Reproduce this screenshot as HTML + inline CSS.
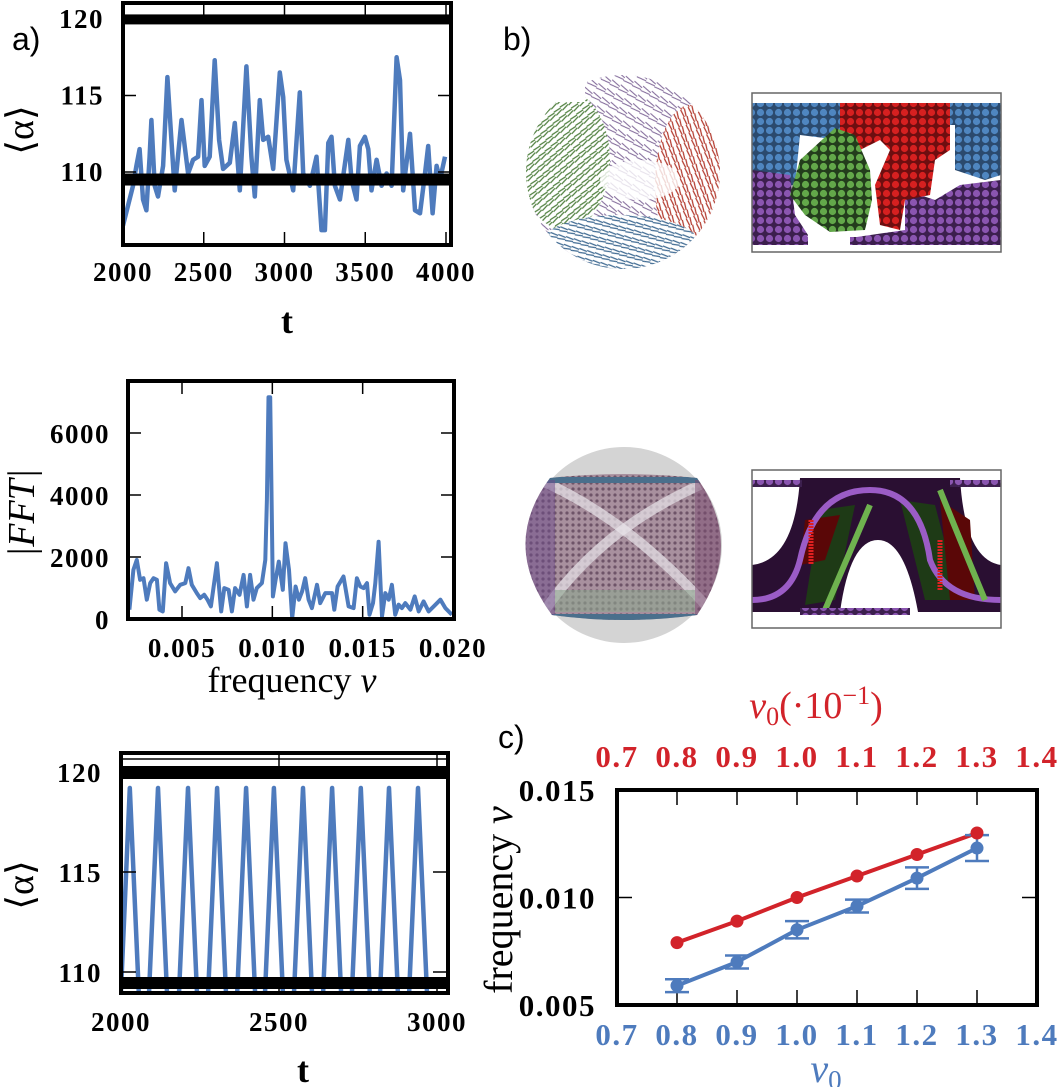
<!DOCTYPE html>
<html><head><meta charset="utf-8"><style>
html,body{margin:0;padding:0;background:#fff;}
svg{display:block;}
.tk{font-family:"Liberation Serif",serif;font-weight:bold;font-size:27px;letter-spacing:1.5px;}
.tkc{font-family:"Liberation Serif",serif;font-weight:bold;font-size:31px;letter-spacing:1.5px;}
.lab{font-family:"Liberation Serif",serif;}
.pl{font-family:"Liberation Sans",sans-serif;font-size:32px;}
</style></head><body>
<svg id="fig" width="1058" height="1087" viewBox="0 0 1058 1087" xmlns="http://www.w3.org/2000/svg">
<defs>
<pattern id="pBlue" width="9" height="9" patternUnits="userSpaceOnUse"><rect width="9" height="9" fill="#2b4a6e"/><circle cx="4.5" cy="4.5" r="3.6" fill="#4f86c0"/></pattern>
<pattern id="pRed" width="9" height="9" patternUnits="userSpaceOnUse"><rect width="9" height="9" fill="#6e0e10"/><circle cx="4.5" cy="4.5" r="3.6" fill="#d62020"/></pattern>
<pattern id="pGreen" width="9" height="9" patternUnits="userSpaceOnUse"><rect width="9" height="9" fill="#233d1c"/><circle cx="4.5" cy="4.5" r="3.6" fill="#63a84a"/></pattern>
<pattern id="pPurple" width="9" height="9" patternUnits="userSpaceOnUse"><rect width="9" height="9" fill="#3c1f4e"/><circle cx="4.5" cy="4.5" r="3.6" fill="#8a55b0"/></pattern>
<pattern id="pMesh" width="6" height="6" patternUnits="userSpaceOnUse"><rect width="6" height="6" fill="#a8909e"/><circle cx="3" cy="3" r="1.6" fill="#6e5468"/></pattern>
<pattern id="pTraj" width="10" height="10" patternUnits="userSpaceOnUse" patternTransform="rotate(30)"><rect width="10" height="10" fill="#fff"/><path d="M0 3 L10 5 M0 8 L10 7" stroke="#5b3b7a" stroke-width="1.1" opacity="0.8"/></pattern>
<pattern id="pTrajG" width="8" height="8" patternUnits="userSpaceOnUse" patternTransform="rotate(-40)"><rect width="8" height="8" fill="#fff"/><path d="M0 2 L8 3 M0 6 L8 5" stroke="#4f7f3e" stroke-width="1.3"/></pattern>
<pattern id="pTrajR" width="8" height="8" patternUnits="userSpaceOnUse" patternTransform="rotate(70)"><rect width="8" height="8" fill="#fff"/><path d="M0 2 L8 3 M0 6 L8 5" stroke="#b33a2e" stroke-width="1.2"/></pattern>
<pattern id="pTrajB" width="8" height="8" patternUnits="userSpaceOnUse" patternTransform="rotate(15)"><rect width="8" height="8" fill="#fff"/><path d="M0 2 L8 3 M0 6 L8 5" stroke="#3f6a92" stroke-width="1.2"/></pattern>
<clipPath id="clipSph"><ellipse cx="623" cy="172" rx="97" ry="97"/></clipPath>
<clipPath id="clipR1"><rect x="752" y="93" width="249" height="159"/></clipPath>
<clipPath id="clipR2"><rect x="752" y="470" width="249" height="158"/></clipPath>
<clipPath id="clipBand"><path d="M550,478 Q624,470 697,478 Q745,545 697,615 Q624,625 552,615 Q500,545 550,478Z"/></clipPath>
</defs>

<text class="pl" x="12" y="50">a)</text>
<text class="pl" x="503" y="50">b)</text>
<text class="pl" x="498" y="748">c)</text>

<g>
  <g clip-path="url(#clipSph)">
    <rect x="520" y="70" width="210" height="210" fill="url(#pTraj)"/>
    <ellipse cx="565" cy="160" rx="45" ry="70" fill="url(#pTrajG)"/>
    <ellipse cx="690" cy="185" rx="35" ry="80" fill="url(#pTrajR)"/>
    <ellipse cx="620" cy="245" rx="80" ry="30" fill="url(#pTrajB)"/>
    <ellipse cx="640" cy="180" rx="40" ry="20" fill="#fff" opacity="0.8"/>
    <path d="M620,272 Q560,268 540,245" stroke="#3f6a92" stroke-width="4" fill="none"/>
  </g>
  <rect x="540" y="72" width="45" height="30" fill="#fff"/>
</g>
<g>
  <g clip-path="url(#clipR1)">
    <rect x="752" y="93" width="249" height="159" fill="#fff"/>
    <path d="M752,103 H1001 V175 L985,180 L955,170 V125 H840 V140 L800,135 L795,185 L752,190Z" fill="url(#pBlue)"/>
    <path d="M752,170 L790,175 L795,215 L808,235 L805,245 L752,245Z" fill="url(#pPurple)"/>
    <path d="M905,190 L935,200 L960,185 L1001,180 V245 L850,245 L850,238 L905,230Z" fill="url(#pPurple)"/>
    <path d="M840,103 H950 V150 L935,160 L930,195 L905,200 L900,230 L880,225 L875,185 L890,150 L880,140 L860,150 L840,140Z" fill="url(#pRed)"/>
    <path d="M800,160 L835,128 L855,135 L870,170 L872,200 L865,230 L830,232 L805,215 L790,195Z" fill="url(#pGreen)"/>
    <rect x="752" y="237" width="249" height="8" fill="url(#pPurple)"/>
    <rect x="808" y="237" width="42" height="8" fill="#fff"/>
  </g>
  <rect x="752" y="93" width="249" height="159" fill="none" stroke="#666" stroke-width="1.5"/>
</g>
<g>
  <circle cx="624" cy="545" r="98" fill="#d4d4d4"/>
  <g clip-path="url(#clipBand)">
    <rect x="500" y="465" width="250" height="165" fill="url(#pMesh)"/>
    <path d="M540,480 Q630,520 710,610" stroke="#e8e4ea" stroke-width="10" fill="none" opacity="0.7"/>
    <path d="M700,485 Q600,530 545,610" stroke="#e8e4ea" stroke-width="10" fill="none" opacity="0.7"/>
    <path d="M520,480 H730" stroke="#4a6f8c" stroke-width="6"/>
    <path d="M520,617 H730" stroke="#4a6f8c" stroke-width="6"/>
    <rect x="555" y="590" width="140" height="22" fill="#8fa891" opacity="0.6"/>
    <rect x="525" y="480" width="30" height="135" fill="#6b4a8a" opacity="0.5"/>
    <rect x="695" y="480" width="30" height="135" fill="#7a4a70" opacity="0.5"/>
  </g>
</g>
<g>
  <g clip-path="url(#clipR2)">
    <rect x="752" y="470" width="249" height="158" fill="#fff"/>
    <rect x="752" y="478" width="249" height="134" fill="#2a0f32"/>
    <path d="M752,478 H800 Q795,560 752,565Z" fill="#fff"/>
    <path d="M1001,478 H960 Q965,560 1001,565Z" fill="#fff"/>
    <path d="M840,612 Q850,540 878,540 Q905,540 918,612Z" fill="#fff"/>
    <path d="M820,510 L855,505 L835,600 L805,605Z" fill="#1e3a16"/>
    <path d="M900,500 L935,505 L960,600 L925,600Z" fill="#1e3a16"/>
    <path d="M805,520 L840,515 L825,560 L800,565Z" fill="#5a0707"/>
    <path d="M940,500 L970,520 L975,600 L950,600Z" fill="#5a0707"/>
    <path d="M752,600 Q790,600 800,560 Q815,490 870,490 Q920,490 930,560 Q945,600 1001,600" stroke="#9b5cc6" stroke-width="6" fill="none"/>
    <path d="M825,610 Q855,540 870,505" stroke="#6fb24f" stroke-width="6" fill="none"/>
    <path d="M940,490 Q960,540 985,600" stroke="#6fb24f" stroke-width="6" fill="none"/>
    <path d="M811,520 V565 M940,540 V590" stroke="#e02020" stroke-width="5" stroke-dasharray="2 1"/>
    <rect x="752" y="480" width="50" height="7" fill="url(#pPurple)"/>
    <rect x="950" y="480" width="51" height="7" fill="url(#pPurple)"/>
    <rect x="800" y="608" width="110" height="7" fill="url(#pPurple)"/>
  </g>
  <rect x="752" y="470" width="249" height="158" fill="none" stroke="#666" stroke-width="1.5"/>
</g>

<g id="gA1"></g>
<g id="gFFT"></g>
<g id="gA2"></g>
<g id="gC"></g>
</svg>
<script>
const a1Times=[2000,2031,2062,2083,2103,2124,2145,2165,2176,2196,2217,2248,2275,2300,2320,2362,2382,2403,2434,2465,2486,2506,2537,2568,2595,2620,2661,2692,2723,2764,2795,2816,2847,2868,2899,2930,2971,2992,3012,3054,3095,3116,3157,3198,3229,3250,3271,3291,3312,3343,3395,3415,3446,3467,3498,3519,3539,3570,3601,3632,3663,3694,3715,3735,3777,3808,3839,3870,3890,3917,3942,3963,3994];
const a1Alpha=[106.5,107.8,109.1,110.4,111.5,108.2,107.5,111.0,113.4,109.1,108.4,110.4,116.2,112.1,108.8,113.4,111.7,109.9,110.8,111.0,114.7,110.4,111.0,117.3,112.1,110.2,110.6,113.2,108.8,116.9,111.0,108.4,114.7,112.1,112.3,110.2,116.5,114.9,110.8,108.8,115.2,109.9,109.1,111.0,106.2,106.2,111.9,112.3,109.1,108.2,112.1,109.5,108.2,111.7,112.3,111.5,108.8,110.8,109.1,109.9,109.1,117.5,116.0,108.8,112.5,107.5,107.3,109.9,111.7,107.3,110.4,109.5,111.0];
const a1XTicks=[2000,2500,3000,3500,4000];
const a1YTicks=[110,115,120];
const fftFreq=[0.00209,0.00231,0.0025,0.00268,0.00287,0.00305,0.00324,0.00342,0.00361,0.00375,0.00394,0.00412,0.00434,0.00462,0.0049,0.00518,0.00536,0.00554,0.00582,0.00601,0.00623,0.00641,0.0066,0.00693,0.00717,0.00734,0.00758,0.00776,0.00794,0.00818,0.00841,0.00859,0.00877,0.00896,0.00914,0.00942,0.00961,0.0097,0.00979,0.00988,0.01003,0.01018,0.01036,0.01058,0.01073,0.01092,0.0111,0.01129,0.01147,0.01165,0.01182,0.01201,0.01219,0.01247,0.01265,0.01293,0.0133,0.01343,0.01361,0.01394,0.01422,0.0145,0.01468,0.01487,0.01505,0.01524,0.01538,0.01557,0.0157,0.01588,0.01607,0.01625,0.01644,0.01662,0.0168,0.01699,0.01717,0.01736,0.01764,0.01788,0.0181,0.01837,0.01865,0.01893,0.0193,0.01958,0.01994];
const fftAmp=[300,1585,1906,1264,1317,621,1157,1317,1264,300,246,1800,1157,889,1103,1157,1639,1103,835,675,782,621,407,1800,246,996,942,246,996,782,1424,407,1424,621,996,1157,1906,3834,7154,7154,728,1264,1853,942,2442,1585,32,1050,621,889,1317,621,353,1103,514,835,835,300,1050,1371,407,353,1317,1050,996,1157,139,514,1157,2495,86,835,621,1103,139,460,353,514,300,728,246,568,246,407,621,353,139];
const fftXTicks=[0.005,0.010,0.015,0.020];
const fftXLabels=["0.005","0.010","0.015","0.020"];
const fftYTicks=[0,2000,4000,6000];
const a2PeakTimes=[2028,2117,2212,2304,2396,2484,2576,2668,2759,2848,2940];
const a2PeakAlpha=[119.2,119.2,119.2,119.2,119.2,119.2,119.2,119.2,119.2,119.2,119.2];
const a2Trough=[108.6];
const a2XTicks=[2000,2500,3000];
const a2YTicks=[110,115,120];
const cV0=[0.8,0.9,1.0,1.1,1.2,1.3];
const cFreqRed=[0.0079,0.0089,0.0100,0.0110,0.0120,0.0130];
const cFreqBlue=[0.0059,0.0070,0.0085,0.0096,0.0109,0.0123];
const cErrBlue=[0.0003,0.0003,0.0004,0.0003,0.0005,0.0006];
const cXTicks=[0.7,0.8,0.9,1.0,1.1,1.2,1.3,1.4];
const cYTicks=[0.005,0.010,0.015];
const cYLabels=["0.005","0.010","0.015"];

const NS="http://www.w3.org/2000/svg";
function mk(parent,tag,attrs,text){const e=document.createElementNS(NS,tag);for(const k in attrs)e.setAttribute(k,attrs[k]);if(text!==undefined)e.textContent=text;parent.appendChild(e);return e;}
function lin(d0,d1,r0,r1){return v=>r0+(v-d0)*(r1-r0)/(d1-d0);}
const BLUE="#4e7bbd", RED="#d2232a";

function frame(g,x0,y0,x1,y1){
  const f=mk(g,'rect',{x:x0,y:y0,width:x1-x0,height:y1-y0,fill:'none',stroke:'#000','stroke-width':4});
  
  
}
function polyline(g,pts,color,w){
  const p=mk(g,'polyline',{points:pts.map(p=>p[0].toFixed(1)+','+p[1].toFixed(1)).join(' '),fill:'none',stroke:color,'stroke-width':w,'stroke-linejoin':'round'});
  
  
  return p;
}

(function(){
  const g=document.getElementById('gA1');
  const X0=123,X1=451,Y0=3,Y1=245;
  const sx=lin(2000,4000,123,446), sy=lin(110,120,172,19);
  const clip=mk(document.querySelector('defs'),'clipPath',{id:'cA1'});mk(clip,'rect',{x:X0,y:Y0,width:X1-X0,height:Y1-Y0});
  const inner=mk(g,'g',{'clip-path':'url(#cA1)'});
  polyline(inner,a1Times.map((t,i)=>[sx(t),sy(a1Alpha[i])]),BLUE,4.5);
  const b1=mk(inner,'rect',{x:X0,y:sy(120.3),width:X1-X0,height:10,fill:'#000'});
  
  
  const b2=mk(inner,'rect',{x:X0,y:sy(109.9),width:X1-X0,height:12,fill:'#000'});
  
  
  a1XTicks.forEach(t=>{
    const x=sx(t);
    mk(g,'line',{x1:x,x2:x,y1:Y1,y2:Y1-13,stroke:'#000','stroke-width':1.5});
    mk(g,'line',{x1:x,x2:x,y1:Y0,y2:Y0+13,stroke:'#000','stroke-width':1.5});
    const l=mk(g,'text',{x:x,y:281,'text-anchor':'middle',class:'tk'},String(t));
    
    
  });
  a1YTicks.forEach(v=>{
    const y=sy(v);
    mk(g,'line',{x1:X0,x2:X0+13,y1:y,y2:y,stroke:'#000','stroke-width':1.5});
    mk(g,'line',{x1:X1,x2:X1-13,y1:y,y2:y,stroke:'#000','stroke-width':1.5});
    const l=mk(g,'text',{x:104,y:y+9,'text-anchor':'end',class:'tk'},String(v));
    
    
  });
  frame(g,X0,Y0,X1,Y1);
  const xt=mk(g,'text',{x:287,y:333,'text-anchor':'middle',class:'lab',style:'font-size:36px;font-weight:bold'},'t');
  
  
  const yt=mk(g,'text',{x:0,y:0,'text-anchor':'middle',class:'lab',style:'font-size:38px',transform:'translate(33,130) rotate(-90)'},'⟨α⟩');
  
  
})();

(function(){
  const g=document.getElementById('gFFT');
  const X0=128,X1=454,Y0=381,Y1=619;
  const sx=lin(0.005,0.020,182,453), sy=lin(0,6000,619,433);
  const clip=mk(document.querySelector('defs'),'clipPath',{id:'cFFT'});mk(clip,'rect',{x:X0,y:Y0,width:X1-X0,height:Y1-Y0});
  const inner=mk(g,'g',{'clip-path':'url(#cFFT)'});
  polyline(inner,fftFreq.map((f,i)=>[sx(f),sy(fftAmp[i])]),BLUE,4);
  fftXTicks.forEach((t,i)=>{
    const x=sx(t);
    mk(g,'line',{x1:x,x2:x,y1:Y1,y2:Y1-13,stroke:'#000','stroke-width':1.5});
    mk(g,'line',{x1:x,x2:x,y1:Y0,y2:Y0+13,stroke:'#000','stroke-width':1.5});
    const l=mk(g,'text',{x:x,y:657,'text-anchor':'middle',class:'tk'},fftXLabels[i]);
    
    
  });
  fftYTicks.forEach(v=>{
    const y=sy(v);
    mk(g,'line',{x1:X0,x2:X0+13,y1:y,y2:y,stroke:'#000','stroke-width':1.5});
    mk(g,'line',{x1:X1,x2:X1-13,y1:y,y2:y,stroke:'#000','stroke-width':1.5});
    const l=mk(g,'text',{x:110,y:y+10,'text-anchor':'end',class:'tk'},String(v));
    
    
  });
  frame(g,X0,Y0,X1,Y1);
  const xt=mk(g,'text',{x:292,y:692,'text-anchor':'middle',class:'lab',style:'font-size:36px'},'frequency ');
  mk(xt,'tspan',{'font-style':'italic'},'ν');
  
  
  const yt=mk(g,'text',{x:0,y:0,'text-anchor':'middle',class:'lab',style:'font-size:38px;font-style:italic',transform:'translate(34,513) rotate(-90)'},'|FFT|');
  
  
})();

(function(){
  const g=document.getElementById('gA2');
  const X0=121,X1=448,Y0=753,Y1=993;
  const sx=lin(2000,3000,121,437), sy=lin(110,120,972,772);
  const clip=mk(document.querySelector('defs'),'clipPath',{id:'cA2'});mk(clip,'rect',{x:X0,y:Y0,width:X1-X0,height:Y1-Y0});
  const inner=mk(g,'g',{'clip-path':'url(#cA2)'});
  const half=(a2PeakTimes[1]-a2PeakTimes[0])*0.33;
  const pts=[];
  a2PeakTimes.forEach((t,i)=>{pts.push([sx(t-half),sy(a2Trough[0])]);pts.push([sx(t),sy(a2PeakAlpha[i])]);pts.push([sx(t+half),sy(a2Trough[0])]);});
  polyline(inner,pts,BLUE,4.5);
  mk(inner,'line',{x1:X0,x2:X1,y1:sy(120.65),y2:sy(120.65),stroke:'#000','stroke-width':1.5});
  const b1=mk(inner,'rect',{x:X0,y:sy(120.3),width:X1-X0,height:13,fill:'#000'});
  
  
  const b2=mk(inner,'rect',{x:X0,y:sy(109.75),width:X1-X0,height:12,fill:'#000'});
  
  
  mk(inner,'line',{x1:X0,x2:X1,y1:sy(109.2),y2:sy(109.2),stroke:'#000','stroke-width':1.5});
  a2XTicks.forEach(t=>{
    const x=sx(t);
    mk(g,'line',{x1:x,x2:x,y1:Y1,y2:sy(109.2),stroke:'#000','stroke-width':1.5});
    mk(g,'line',{x1:x,x2:x,y1:Y0,y2:sy(120.3),stroke:'#000','stroke-width':1.5});
    const l=mk(g,'text',{x:x,y:1031,'text-anchor':'middle',class:'tk'},String(t));
    
    
  });
  a2YTicks.forEach(v=>{
    const y=sy(v);
    mk(g,'line',{x1:X0,x2:X0+15,y1:y,y2:y,stroke:'#000','stroke-width':1.5});
    mk(g,'line',{x1:X1,x2:X1-15,y1:y,y2:y,stroke:'#000','stroke-width':1.5});
    const l=mk(g,'text',{x:102,y:y+10,'text-anchor':'end',class:'tk'},String(v));
    
    
  });
  frame(g,X0,Y0,X1,Y1);
  const xt=mk(g,'text',{x:303,y:1082,'text-anchor':'middle',class:'lab',style:'font-size:36px;font-weight:bold'},'t');
  
  
  const yt=mk(g,'text',{x:0,y:0,'text-anchor':'middle',class:'lab',style:'font-size:38px',transform:'translate(33,885) rotate(-90)'},'⟨α⟩');
  
  
})();

(function(){
  const g=document.getElementById('gC');
  const X0=617,X1=1037,Y0=790,Y1=1005;
  const sx=lin(0.7,1.4,617,1037), sy=lin(0.005,0.015,1005,790);
  cXTicks.forEach(t=>{
    const x=sx(t);
    if(t>0.75&&t<1.35){
      mk(g,'line',{x1:x,x2:x,y1:Y1,y2:Y1-15,stroke:'#000','stroke-width':1.5});
      mk(g,'line',{x1:x,x2:x,y1:Y0,y2:Y0+15,stroke:'#000','stroke-width':1.5});
    }
    const l1=mk(g,'text',{x:x,y:1045,'text-anchor':'middle',class:'tkc',fill:BLUE},t.toFixed(1));
    
    
    const l2=mk(g,'text',{x:x,y:767,'text-anchor':'middle',class:'tkc',fill:RED},t.toFixed(1));
    
    
  });
  cYTicks.forEach((v,i)=>{
    const y=sy(v);
    mk(g,'line',{x1:X0,x2:X0+15,y1:y,y2:y,stroke:'#000','stroke-width':1.5});
    mk(g,'line',{x1:X1,x2:X1-15,y1:y,y2:y,stroke:'#000','stroke-width':1.5});
    const l=mk(g,'text',{x:596,y:y+11,'text-anchor':'end',class:'tkc'},cYLabels[i]);
    
    
  });
  polyline(g,cV0.map((v,i)=>[sx(v),sy(cFreqRed[i])]),RED,4);
  polyline(g,cV0.map((v,i)=>[sx(v),sy(cFreqBlue[i])]),BLUE,4);
  cV0.forEach((v,i)=>{
    const x=sx(v);
    const eb=mk(g,'path',{d:`M${x-12},${sy(cFreqBlue[i]+cErrBlue[i])}H${x+12}M${x},${sy(cFreqBlue[i]+cErrBlue[i])}V${sy(cFreqBlue[i]-cErrBlue[i])}M${x-12},${sy(cFreqBlue[i]-cErrBlue[i])}H${x+12}`,stroke:BLUE,'stroke-width':2.5,fill:'none'});
    
    
    const pb=mk(g,'circle',{cx:x,cy:sy(cFreqBlue[i]),r:6.5,fill:BLUE});
    
    
    const pr=mk(g,'circle',{cx:x,cy:sy(cFreqRed[i]),r:6.5,fill:RED});
    
    
  });
  frame(g,X0,Y0,X1,Y1);
  const tt=mk(g,'text',{x:816,y:718,'text-anchor':'middle',class:'lab',style:'font-size:38px',fill:RED});
  mk(tt,'tspan',{'font-style':'italic'},'v');mk(tt,'tspan',{style:'font-size:26px','dy':'7'},'0');mk(tt,'tspan',{'dy':'-7'},'(·10');mk(tt,'tspan',{style:'font-size:26px','dy':'-14'},'−1');mk(tt,'tspan',{'dy':'14'},')');
  
  
  const bt=mk(g,'text',{x:826,y:1082,'text-anchor':'middle',class:'lab',style:'font-size:40px',fill:BLUE});
  mk(bt,'tspan',{'font-style':'italic'},'v');mk(bt,'tspan',{style:'font-size:27px','dy':'7'},'0');
  
  
  const yt=mk(g,'text',{x:0,y:0,'text-anchor':'middle',class:'lab',style:'font-size:40px',transform:'translate(512,900) rotate(-90)'},'frequency ');
  mk(yt,'tspan',{'font-style':'italic'},'ν');
  
  
})();
</script>
</body></html>
